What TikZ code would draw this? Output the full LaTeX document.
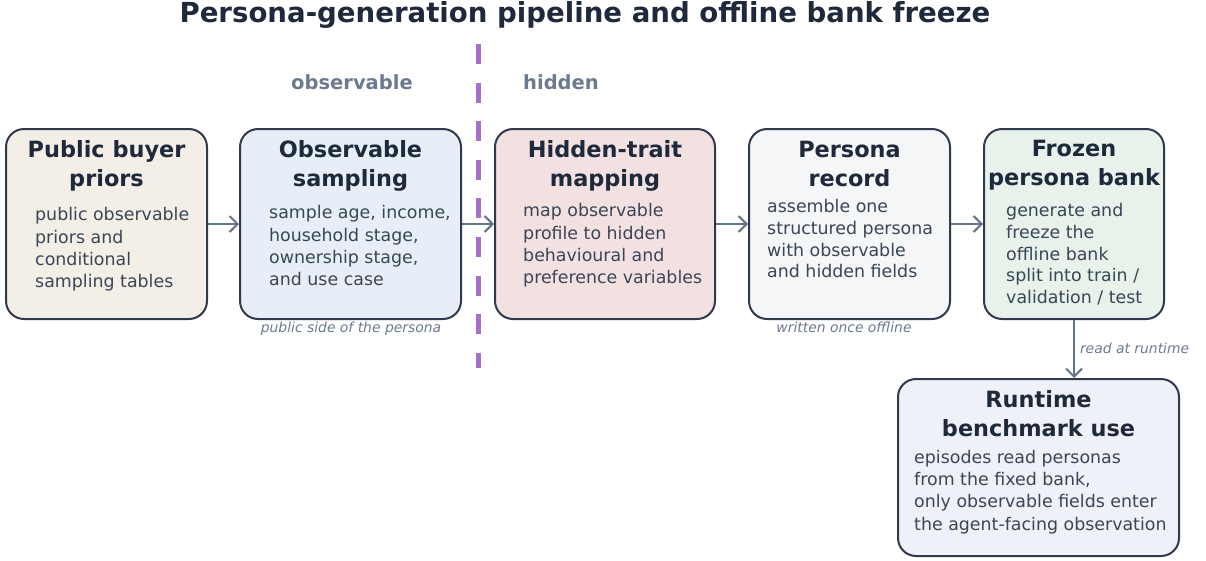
\documentclass[tikz,border=0pt]{standalone}
\usepackage{fontspec}
\setmainfont{DejaVu Sans}
\usetikzlibrary{arrows.meta}
\definecolor{titlec}{HTML}{1E293B}
\definecolor{bodyc}{HTML}{3A4657}
\definecolor{labelc}{HTML}{6B7A90}
\definecolor{borderc}{HTML}{2F3B4D}
\definecolor{arrowc}{HTML}{64748B}
\definecolor{purplec}{HTML}{A86FC8}
\definecolor{fillA}{HTML}{F3EEE6}
\definecolor{fillB}{HTML}{E6EFF7}
\definecolor{fillC}{HTML}{F3E0E0}
\definecolor{fillD}{HTML}{F4F6F8}
\definecolor{fillE}{HTML}{E7F2EA}
\definecolor{fillF}{HTML}{EEF1F8}
\tikzset{
  stagebox/.style={draw=borderc, line width=2pt, rounded corners=18pt, inner sep=0pt, minimum height=190pt},
  boxtitle/.style={anchor=north, align=center, inner sep=0pt, text=titlec, font=\fontsize{22.4}{29}\selectfont\bfseries},
  boxbody/.style={anchor=north west, align=left, inner sep=0pt, text=bodyc, font=\fontsize{17.4}{22.2}\selectfont},
  sidelabel/.style={anchor=base, inner sep=0pt, text=labelc, font=\fontsize{19.5}{22}\selectfont\bfseries},
  note/.style={inner sep=0pt, text=labelc, font=\fontsize{13.9}{16}\selectfont\itshape},
  flow/.style={draw=arrowc, line width=2pt, -{Straight Barb[length=8pt,width=16pt,line width=2pt]}},
}
\begin{document}
\begin{tikzpicture}[x=1pt,y=-1pt]
\useasboundingbox (0,0) rectangle (1206,560);
% title
\node[anchor=base, inner sep=0pt, text=titlec, font=\fontsize{27.6}{32}\selectfont\bfseries] (title) at (585,22) {Persona-generation pipeline and offline bank freeze};
% divider
\coordinate (dtop) at (478,44);
\coordinate (dbot) at (478,368);
\draw[purplec, line width=5pt, dash pattern=on 20pt off 18.6pt] (dtop) -- (dbot);
\node[sidelabel] (lobs) at (352,89) {observable};
\node[sidelabel] (lhid) at (561,89) {hidden};
% boxes
\node[stagebox, fill=fillA, minimum width=201pt] (b1) at (106.5,224) {};
\node[stagebox, fill=fillB, minimum width=221pt] (b2) at (350.5,224) {};
\node[stagebox, fill=fillC, minimum width=220pt] (b3) at (605,224) {};
\node[stagebox, fill=fillD, minimum width=201pt] (b4) at (849.5,224) {};
\node[stagebox, fill=fillE, minimum width=180pt] (b5) at (1074,224) {};
\node[stagebox, fill=fillF, minimum width=281pt, minimum height=177pt] (b6) at (1038.5,467.5) {};
% titles
\node[boxtitle] (t1) at (106.5,140.5) {Public buyer\\priors};
\node[boxtitle] (t2) at (350.5,140.5) {Observable\\sampling};
\node[boxtitle] (t3) at (605,140.5) {Hidden-trait\\mapping};
\node[boxtitle] (t4) at (849.5,140.5) {Persona\\record};
\node[boxtitle] (t5) at (1074,140) {Frozen\\persona bank};
\node[boxtitle] (t6) at (1038.5,390.5) {Runtime\\benchmark use};
% bodies
\node[boxbody] (d1) at (35,207.5) {public observable\\priors and\\conditional\\sampling tables};
\node[boxbody] (d2) at (269,205.5) {sample age, income,\\household stage,\\ownership stage,\\and use case};
\node[boxbody] (d3) at (523,203.5) {map observable\\profile to hidden\\behavioural and\\preference variables};
\node[boxbody, font=\fontsize{17.4}{21.6}\selectfont] (d4) at (767,199.5) {assemble one\\structured persona\\with observable\\and hidden fields};
\node[boxbody, font=\fontsize{17.4}{21.6}\selectfont] (d5) at (1006,203.5) {generate and\\freeze the\\offline bank\\split into train /\\validation / test};
\node[boxbody] (d6) at (914,450) {episodes read personas\\from the fixed bank,\\only observable fields enter\\the agent-facing observation};
% notes
\node[note, anchor=base] (n2) at (351,332) {public side of the persona};
\node[note, anchor=base] (n4) at (844,332) {written once offline};
% arrows
\draw[flow] (b1.east) -- (b2.west);
\draw[flow] (b2.east) -- (b3.west);
\draw[flow] (b3.east) -- (b4.west);
\draw[flow] (b4.east) -- (b5.west);
\draw[flow] (b5.south) -- node[note, anchor=base west, pos=0.5, xshift=5pt, yshift=-4pt] (n5) {read at runtime} (b6.north -| b5.south);
\end{tikzpicture}
\end{document}
